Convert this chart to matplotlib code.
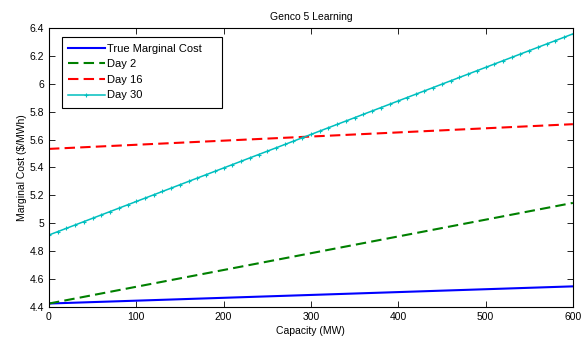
import numpy as np
import matplotlib.pyplot as plt
from matplotlib.patches import Rectangle

plt.rcParams['font.family'] = ['Liberation Sans', 'DejaVu Sans']
plt.rcParams['font.size'] = 7.5

# Линейные кривые предельных издержек: MC = a + b * P
series_names = ['True Marginal Cost', 'Day 2', 'Day 16', 'Day 30']
intercepts = [4.425, 4.425, 5.533, 4.916]   # $/MWh при P = 0
end_values = [4.548, 5.146, 5.710, 6.357]   # $/MWh при P = 600
capacity = np.arange(0, 601, 10)            # MW

colors = ['#0000ff', '#008000', '#ff0000', '#00bfbf']
styles = ['-', '--', '--', '-']
markers = [None, None, None, '+']
widths = [1.5, 1.5, 1.5, 1.1]

fig = plt.figure(figsize=(5.88, 3.40), dpi=100)
ax = fig.add_axes([0.0833, 0.097, 0.891, 0.821])

for name, a, e, c, ls, m, lw in zip(series_names, intercepts, end_values,
                                    colors, styles, markers, widths):
    slope = (e - a) / 600.0
    ax.plot(capacity, a + slope * capacity, color=c, linestyle=ls,
            linewidth=lw, marker=m, markersize=3, markeredgewidth=0.8,
            dashes=(5, 2.5) if ls == '--' else (None, None), label=name)

ax.set_xlim(0, 600)
ax.set_ylim(4.4, 6.4)
ax.set_xticks(np.arange(0, 601, 100))
ax.set_yticks(np.arange(4.4, 6.41, 0.2))
ax.set_yticklabels(['4.4', '4.6', '4.8', '5', '5.2', '5.4', '5.6', '5.8', '6', '6.2', '6.4'])
ax.tick_params(direction='in', top=True, right=True, length=4, width=0.6)
for s in ax.spines.values():
    s.set_linewidth(0.8)

ax.set_xlabel('Capacity (MW)', labelpad=3)
ax.set_ylabel('Marginal Cost ($/MWh)', labelpad=2)
ax.set_title('Genco 5 Learning', fontsize=7.5, pad=6)

# рамка легенды в стиле MATLAB (шире текста)
box = Rectangle((0.025, 0.713), 0.305, 0.255, transform=ax.transAxes,
                facecolor='white', edgecolor='black', linewidth=0.8, zorder=4.9)
ax.add_patch(box)
leg = ax.legend(loc='upper left', bbox_to_anchor=(0.036, 0.943), frameon=False,
                borderpad=0, labelspacing=0.5, handlelength=3.3,
                handletextpad=0.25, borderaxespad=0, fontsize=8)

fig.savefig('out.png', dpi=100)
